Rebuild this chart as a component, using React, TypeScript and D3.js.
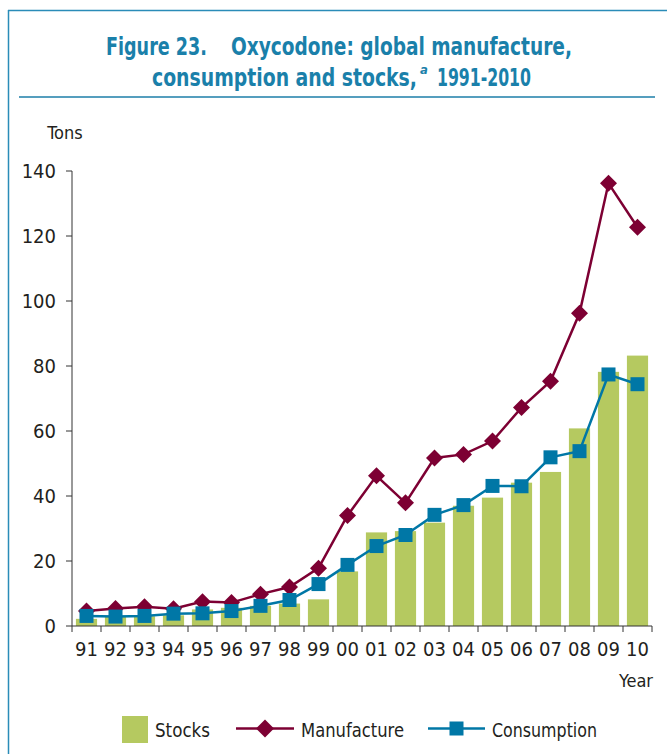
import React from "react";
import * as d3 from "d3";

const years = ["91","92","93","94","95","96","97","98","99","00","01","02","03","04","05","06","07","08","09","10"];
const stocks = [2.2,2.8,3.0,3.3,5.1,5.6,6.2,6.9,8.2,16.8,28.8,29.2,31.8,37.0,39.5,44.1,47.4,60.8,78.2,83.2];
const manufacture = [4.6,5.4,5.9,5.3,7.5,7.2,9.8,12.0,17.8,34.0,46.2,37.9,51.7,52.8,56.9,67.2,75.3,96.2,136.2,122.7];
const consumption = [3.1,2.9,3.1,3.8,3.9,4.6,6.2,8.0,12.9,18.8,24.6,28.0,34.2,37.2,43.1,43.0,51.9,53.8,77.4,74.4];
const yTicks = [0,20,40,60,80,100,120,140];

const FONT = "'Liberation Sans Narrow','DejaVu Sans Condensed','Roboto Condensed','Arial Narrow',sans-serif";
const GREEN = "#b5c960";
const RED = "#7d0033";
const BLUE = "#0077a6";
const TITLE = "#1a80aa";
const TXT = "#231f20";

export default function App() {
  const W = 667, H = 754;
  const x = d3.scaleBand<string>().domain(years).range([72, 652]).paddingInner(0.27).paddingOuter(0.135);
  const y = d3.scaleLinear().domain([0, 140]).range([626, 171]);
  const cx = (i: number) => (x(years[i]) as number) + x.bandwidth() / 2;
  const line = d3.line<number>().x((_, i) => cx(i)).y((d) => y(d));
  const step = x.step();
  const diamond = (px: number, py: number, r: number) => `M${px},${py - r}L${px + r},${py}L${px},${py + r}L${px - r},${py}Z`;

  return (
    <svg width={W} height={H} style={{ position: "absolute", left: 0, top: 0 }} fontFamily={FONT}>
      <rect width={W} height={H} fill="#fff" />
      {/* frame */}
      <line x1={8.5} y1={10} x2={8.5} y2={H} stroke="#2a8cb8" strokeWidth={1.5} />
      <line x1={8} y1={10.5} x2={W} y2={10.5} stroke="#2a8cb8" strokeWidth={1.5} />
      <line x1={19} y1={97} x2={655} y2={97} stroke="#1d7ea8" strokeWidth={1.5} />
      {/* title */}
      <text x={106} y={55} fontSize={25} fontWeight="bold" fill={TITLE} textLength={101} lengthAdjust="spacingAndGlyphs">Figure 23.</text>
      <text x={231} y={55} fontSize={25} fontWeight="bold" fill={TITLE} textLength={341} lengthAdjust="spacingAndGlyphs">Oxycodone: global manufacture,</text>
      <text x={152} y={86} fontSize={25} fontWeight="bold" fill={TITLE} textLength={265} lengthAdjust="spacingAndGlyphs">consumption and stocks,</text>
      <text x={420} y={74} fontSize={13} fontWeight="bold" fontStyle="italic" fill={TITLE}>a</text>
      <text x={437} y={86} fontSize={25} fontWeight="bold" fill={TITLE} textLength={94} lengthAdjust="spacingAndGlyphs">1991-2010</text>
      {/* axis labels */}
      <text x={65} y={139} textAnchor="middle" fontSize={18} fill={TXT}>Tons</text>
      <text x={653} y={687} textAnchor="end" fontSize={18} fill={TXT}>Year</text>
      {/* bars */}
      {stocks.map((v, i) => (
        <rect key={"b" + i} x={x(years[i])} y={y(v)} width={x.bandwidth()} height={y(0) - y(v)} fill={GREEN} />
      ))}
      {/* y axis */}
      <line x1={72} y1={y(140)} x2={72} y2={y(0)} stroke="#333" strokeWidth={1} />
      {yTicks.map((t) => (
        <g key={"y" + t}>
          <line x1={66} x2={72} y1={y(t)} y2={y(t)} stroke="#333" strokeWidth={1} />
          <text x={56} y={y(t) + 7} textAnchor="end" fontSize={20} fill={TXT}>{t}</text>
        </g>
      ))}
      {/* x axis */}
      <line x1={72} y1={y(0)} x2={652} y2={y(0)} stroke="#333" strokeWidth={1} />
      {d3.range(years.length + 1).map((i) => (
        <line key={"xt" + i} x1={72 + step * i} x2={72 + step * i} y1={y(0)} y2={y(0) + 6} stroke="#333" strokeWidth={1} />
      ))}
      {years.map((c, i) => (
        <text key={"xl" + c} x={cx(i)} y={656} textAnchor="middle" fontSize={20} fill={TXT}>{c}</text>
      ))}
      {/* lines */}
      <path d={line(manufacture) || ""} fill="none" stroke={RED} strokeWidth={2.5} />
      {manufacture.map((v, i) => (
        <path key={"m" + i} d={diamond(cx(i), y(v), 8.5)} fill={RED} />
      ))}
      <path d={line(consumption) || ""} fill="none" stroke={BLUE} strokeWidth={2.5} />
      {consumption.map((v, i) => (
        <rect key={"c" + i} x={cx(i) - 7} y={y(v) - 7} width={14} height={14} fill={BLUE} />
      ))}
      {/* legend */}
      <rect x={122} y={716} width={26} height={27} fill={GREEN} />
      <text x={155} y={737} fontSize={20} fill={TXT} textLength={55} lengthAdjust="spacingAndGlyphs">Stocks</text>
      <line x1={236} x2={294} y1={728.5} y2={728.5} stroke={RED} strokeWidth={2.5} />
      <path d={diamond(265, 728.5, 9)} fill={RED} />
      <text x={301} y={737} fontSize={20} fill={TXT} textLength={103} lengthAdjust="spacingAndGlyphs">Manufacture</text>
      <line x1={428} x2={485} y1={728.5} y2={728.5} stroke={BLUE} strokeWidth={2.5} />
      <rect x={449.5} y={721.5} width={14} height={14} fill={BLUE} />
      <text x={492} y={737} fontSize={20} fill={TXT} textLength={105} lengthAdjust="spacingAndGlyphs">Consumption</text>
    </svg>
  );
}
